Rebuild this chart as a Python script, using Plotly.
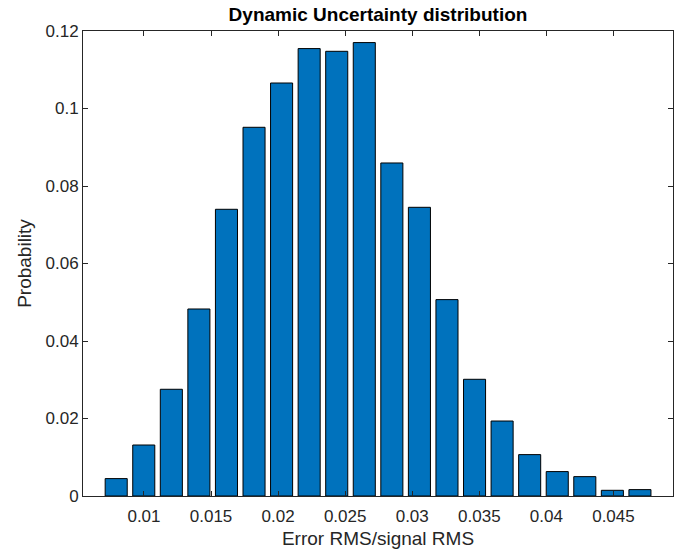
import plotly.graph_objects as go

bin_centers = [0.00793 + i * 0.002055 for i in range(20)]
probabilities = [0.00449, 0.01316, 0.02754, 0.04826, 0.07399, 0.09515, 0.10658,
                 0.11546, 0.11476, 0.11701, 0.08594, 0.07450, 0.05068, 0.03012,
                 0.01935, 0.01068, 0.00630, 0.00500, 0.00147, 0.00165]
x_tickvals = [0.01, 0.015, 0.02, 0.025, 0.03, 0.035, 0.04, 0.045]
x_ticktext = ["0.01", "0.015", "0.02", "0.025", "0.03", "0.035", "0.04", "0.045"]
y_tickvals = [0, 0.02, 0.04, 0.06, 0.08, 0.1, 0.12]
y_ticktext = ["0", "0.02", "0.04", "0.06", "0.08", "0.1", "0.12"]

bin_width = 0.002055
axis_col = "#262626"
font_family = "Liberation Sans, Arial, sans-serif"

fig = go.Figure()
fig.add_trace(go.Bar(
    x=bin_centers, y=probabilities,
    width=[0.8 * bin_width] * len(bin_centers),
    marker=dict(color="#0072BD", line=dict(color="#000000", width=1)),
    showlegend=False,
))

fig.update_layout(
    width=694, height=558,
    margin=dict(l=83, r=21, t=31, b=62),
    paper_bgcolor="white", plot_bgcolor="white",
    font=dict(family=font_family, size=17, color=axis_col),
    title=dict(text="<b>Dynamic Uncertainty distribution</b>",
               font=dict(family=font_family, size=19, color="#000000"),
               x=(83 + 673) / 2 / 694, xanchor="center",
               yref="container", y=(558 - 14) / 558, yanchor="middle"),
    xaxis=dict(range=[0.005455, 0.04944], tickvals=x_tickvals, ticktext=x_ticktext,
               ticks="inside", ticklen=5, tickcolor=axis_col, mirror="ticks",
               showline=True, linecolor=axis_col, linewidth=1, showgrid=False,
               zeroline=False, tickfont=dict(size=17, color=axis_col),
               ticklabelstandoff=5,
               title=dict(text="Error RMS/signal RMS", font=dict(size=19, color=axis_col), standoff=6)),
    yaxis=dict(range=[0, 0.12], tickvals=y_tickvals, ticktext=y_ticktext,
               ticks="inside", ticklen=5, tickcolor=axis_col, mirror="ticks",
               showline=True, linecolor=axis_col, linewidth=1, showgrid=False,
               zeroline=False, tickfont=dict(size=17, color=axis_col),
               title=dict(text="Probability", font=dict(size=19, color=axis_col), standoff=8)),
)

fig.write_html("out.html")
